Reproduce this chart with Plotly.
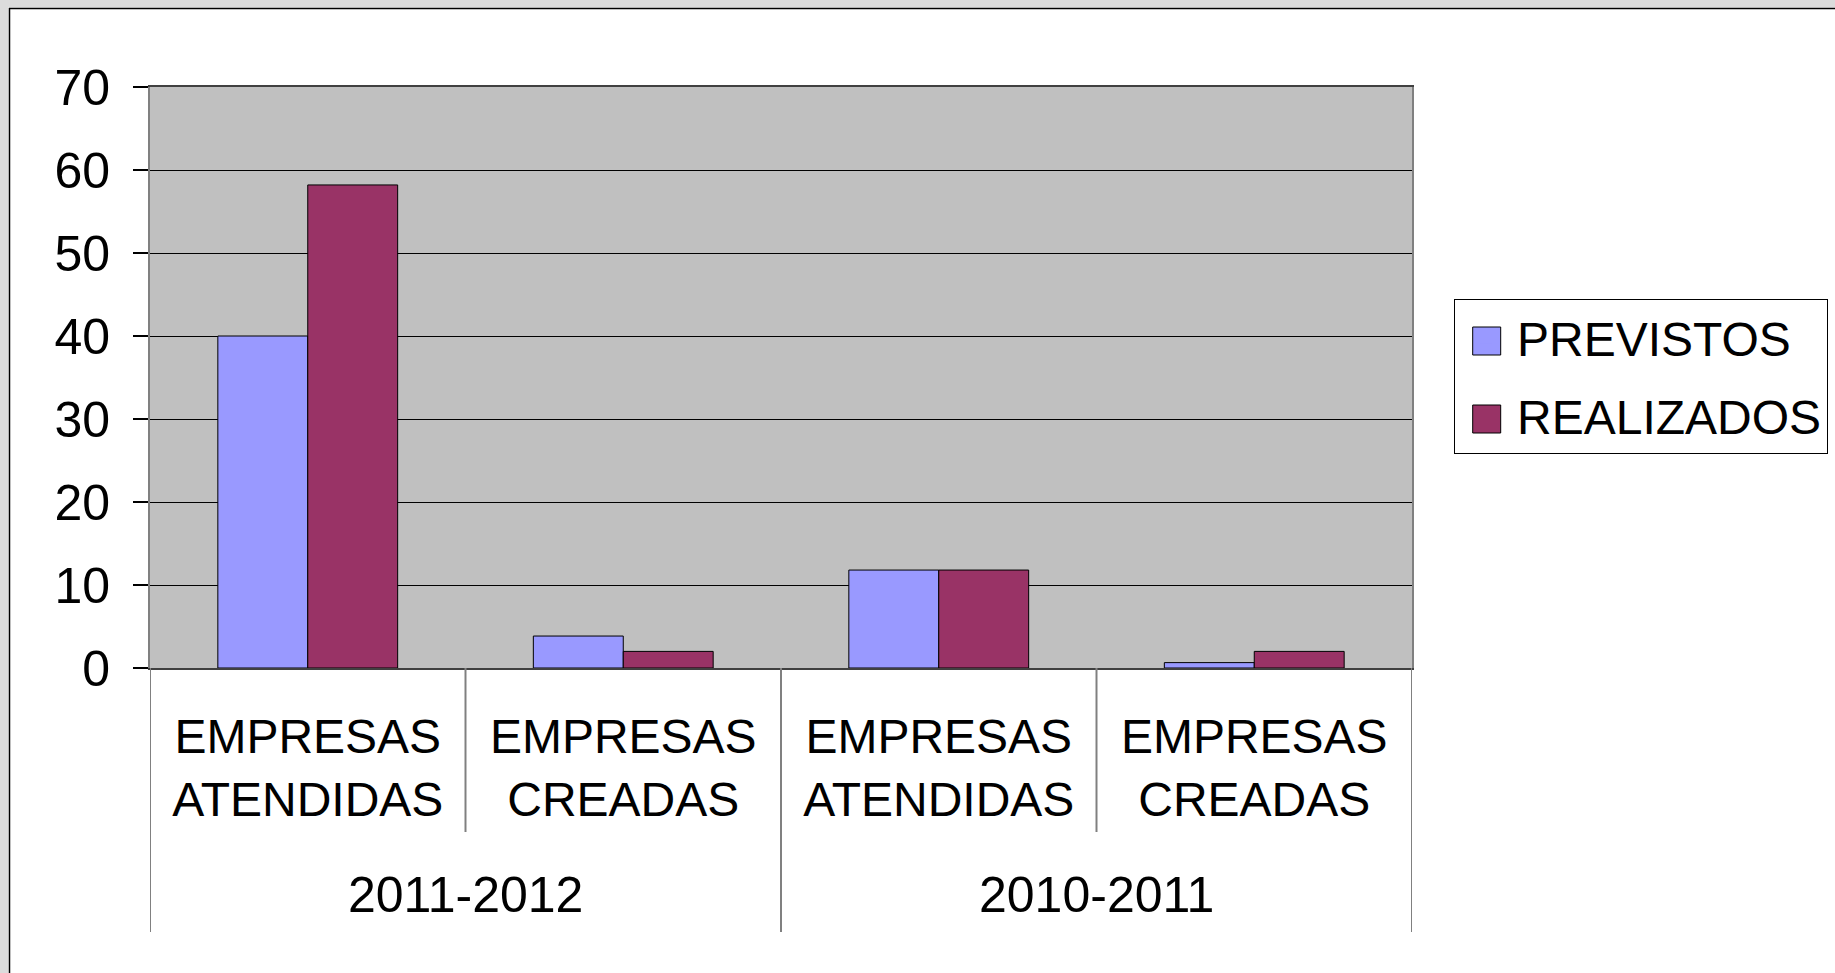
import plotly.graph_objects as go

# ---- data ----
years = ["2011-2012", "2011-2012", "2010-2011", "2010-2011"]
categories = ["EMPRESAS<br>ATENDIDAS", "EMPRESAS<br>CREADAS",
              "EMPRESAS<br>ATENDIDAS", "EMPRESAS<br>CREADAS"]
previstos = [40, 3.85, 11.8, 0.65]
realizados = [58.2, 2, 11.8, 2]
series_names = ["PREVISTOS", "REALIZADOS"]
series_colors = ["#9999FF", "#993366"]
y_ticks = [0, 10, 20, 30, 40, 50, 60, 70]

FONT = "Liberation Sans, Arial, sans-serif"
W, H = 1835, 973
ML, MR, MT, MB = 150, 423, 87, 305
PW, PH = W - ML - MR, H - MT - MB


def px_x(p):
    return (p - ML) / PW


def px_y(p):
    return (H - MB - p) / PH


xpos = list(range(len(categories)))

fig = go.Figure()
for name, vals, col, og in zip(series_names, [previstos, realizados], series_colors, ["a", "b"]):
    fig.add_trace(go.Bar(
        x=xpos, y=vals, name=name, offsetgroup=og, showlegend=False,
        marker=dict(color=col, line=dict(color="#000000", width=1)),
        hoverinfo="x+y+name",
    ))
# legend entries
for name, col, og in zip(series_names, series_colors, ["a", "b"]):
    fig.add_trace(go.Bar(
        x=[None], y=[None], name=name, offsetgroup=og, legendgroup=name,
        marker=dict(color=col, line=dict(width=0)),
    ))

shapes = []
# grey outer strips (top and left) with black frame lines
shapes.append(dict(type="rect", xref="paper", yref="paper",
                   x0=px_x(0), x1=px_x(W + 5), y0=px_y(7.5), y1=px_y(-5),
                   fillcolor="#dcdcdc", line=dict(width=0), layer="below"))
shapes.append(dict(type="rect", xref="paper", yref="paper",
                   x0=px_x(-5), x1=px_x(8.5), y0=px_y(H + 5), y1=px_y(-5),
                   fillcolor="#dcdcdc", line=dict(width=0), layer="below"))
shapes.append(dict(type="line", xref="paper", yref="paper",
                   x0=px_x(9), x1=px_x(W + 5), y0=px_y(8.5), y1=px_y(8.5),
                   line=dict(color="#000000", width=1.5)))
shapes.append(dict(type="line", xref="paper", yref="paper",
                   x0=px_x(9.5), x1=px_x(9.5), y0=px_y(8), y1=px_y(H + 5),
                   line=dict(color="#000000", width=1.5)))

# category dividers
inner_bottom = px_y(832)
outer_bottom = px_y(932)
n = len(categories)
for i in range(n + 1):
    b = i - 0.5
    is_outer = (i == 0 or i == n or years[i - 1] != years[i])
    shapes.append(dict(type="line", xref="x", yref="paper",
                       x0=b, x1=b, y0=0, y1=outer_bottom if is_outer else inner_bottom,
                       line=dict(color="#808080", width=2)))

# legend swatches (larger squares under the legend symbols)
sw = 28
sw_cx = 1486.7
for j, col in enumerate(series_colors):
    cy = 341 + j * 78
    shapes.append(dict(type="rect", xref="paper", yref="paper",
                       x0=px_x(sw_cx - sw / 2), x1=px_x(sw_cx + sw / 2),
                       y0=px_y(cy + sw / 2), y1=px_y(cy - sw / 2),
                       fillcolor=col, line=dict(color="#000000", width=1)))

# year labels
annotations = []
seen = []
for y in years:
    if y not in seen:
        seen.append(y)
for y in seen:
    idx = [i for i, v in enumerate(years) if v == y]
    annotations.append(dict(x=sum(idx) / len(idx), y=px_y(895), xref="x", yref="paper",
                            text=y, showarrow=False, xanchor="center", yanchor="middle",
                            font=dict(family=FONT, size=50, color="#000000")))

fig.update_layout(
    width=W, height=H,
    margin=dict(l=ML, r=MR, t=MT, b=MB, pad=0, autoexpand=False),
    paper_bgcolor="#ffffff",
    plot_bgcolor="#c0c0c0",
    barmode="group", bargap=0.43, bargroupgap=0,
    font=dict(family=FONT, color="#000000"),
    shapes=shapes,
    annotations=annotations,
    showlegend=True,
    legend=dict(
        x=px_x(1454), y=px_y(299), xanchor="left", yanchor="top",
        bgcolor="rgba(0,0,0,0)", bordercolor="#000000", borderwidth=1,
        font=dict(family=FONT, size=48, color="#000000"),
        traceorder="grouped", tracegroupgap=12, itemwidth=52,
    ),
    xaxis=dict(
        range=[-0.5, n - 0.5], tickmode="array", tickvals=xpos, ticktext=categories,
        ticks="", showgrid=False, zeroline=False,
        showline=True, linecolor="#404040", linewidth=1.5, mirror=True,
        tickfont=dict(family=FONT, size=48, color="#000000"),
        ticklabelstandoff=26, fixedrange=True,
    ),
    yaxis=dict(
        range=[0, 70], tickmode="array", tickvals=y_ticks,
        ticks="outside", ticklen=15, tickcolor="#000000", tickwidth=1.5,
        showgrid=True, gridcolor="#000000", gridwidth=1,
        zeroline=False, showline=True, linecolor="#808080", linewidth=2, mirror=True,
        tickfont=dict(family=FONT, size=50, color="#000000"),
        ticklabelstandoff=13, fixedrange=True,
    ),
)

fig.write_html(
    "out.html",
    config={"displayModeBar": False},
    post_script="document.body.style.margin='0px';document.body.style.overflow='hidden';",
)
